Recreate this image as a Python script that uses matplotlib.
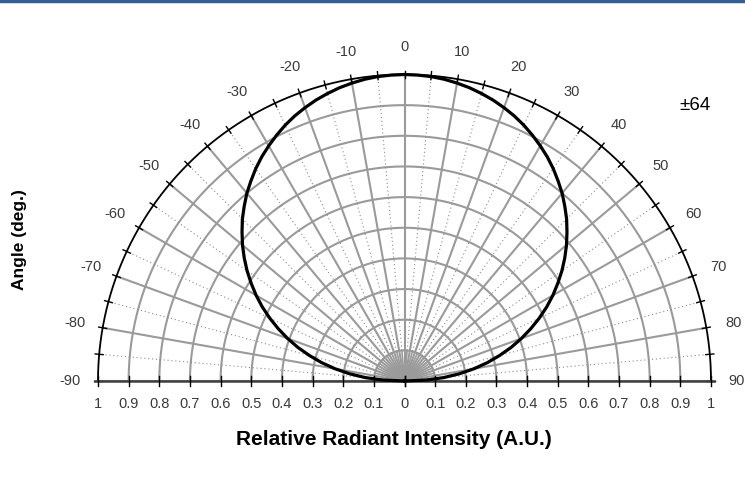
import numpy as np
import matplotlib.pyplot as plt

plt.rcParams['font.family'] = ['Liberation Sans', 'DejaVu Sans']

# relative radiant intensity vs. emission angle (deg)
angles = [-90, -87.5, -85, -82.5, -80, -77.5, -75, -72.5, -70, -67.5, -65, -62.5,
          -60, -57.5, -55, -52.5, -50, -47.5, -45, -42.5, -40, -37.5, -35, -32.5,
          -30, -27.5, -25, -22.5, -20, -17.5, -15, -12.5, -10, -7.5, -5, -2.5,
          0, 2.5, 5, 7.5, 10, 12.5, 15, 17.5, 20, 22.5, 25, 27.5,
          30, 32.5, 35, 37.5, 40, 42.5, 45, 47.5, 50, 52.5, 55, 57.5,
          60, 62.5, 65, 67.5, 70, 72.5, 75, 77.5, 80, 82.5, 85, 87.5, 90]
intensity = [0.0, 0.072, 0.129, 0.181, 0.230, 0.277, 0.321, 0.365, 0.406, 0.446, 0.485, 0.523,
             0.559, 0.593, 0.627, 0.659, 0.690, 0.719, 0.748, 0.774, 0.800, 0.823, 0.846, 0.867,
             0.886, 0.904, 0.921, 0.936, 0.949, 0.961, 0.971, 0.980, 0.987, 0.993, 0.997, 0.999,
             1.0, 0.999, 0.997, 0.993, 0.987, 0.980, 0.971, 0.961, 0.949, 0.936, 0.921, 0.904,
             0.886, 0.867, 0.846, 0.823, 0.800, 0.774, 0.748, 0.719, 0.690, 0.659, 0.627, 0.593,
             0.559, 0.523, 0.485, 0.446, 0.406, 0.365, 0.321, 0.277, 0.230, 0.181, 0.129, 0.072, 0.0]

angle_ticks = [-90, -80, -70, -60, -50, -40, -30, -20, -10, 0, 10, 20, 30, 40, 50, 60, 70, 80, 90]
radius_ticks = [0, 0.1, 0.2, 0.3, 0.4, 0.5, 0.6, 0.7, 0.8, 0.9, 1]
half_angle = "±64"

W, H = 745, 479
cx, cy, R = 404.5, 381.0, 306.5   # pixel position of the pole and unit radius

fig = plt.figure(figsize=(W / 100, H / 100), dpi=100)
ax = fig.add_axes([0, 0, 1, 1])
ax.set_xlim(-cx / R, (W - cx) / R)
ax.set_ylim(-(H - cy) / R, cy / R)
ax.axis('off')


def xy(deg, r):
    t = np.radians(deg)
    return r * np.sin(t), r * np.cos(t)


grid = '#9a9a9a'

# concentric arcs
th = np.linspace(-90, 90, 361)
for r in radius_ticks[1:-1]:
    x, y = xy(th, r)
    ax.plot(x, y, color=grid, lw=1.5, zorder=1)

# radial spokes: solid every 10 deg, dense near the pole, dotted every 5 deg further out
for a in range(-90, 91, 5):
    if a % 10 == 0:
        x, y = xy(a, np.array([0, 1]))
        ax.plot(x, y, color=grid, lw=1.5, zorder=1)
    else:
        x, y = xy(a, np.array([0, 0.1]))
        ax.plot(x, y, color=grid, lw=1.2, zorder=1)
        x, y = xy(a, np.array([0.1, 1]))
        ax.plot(x, y, color='#8c8c8c', lw=0.8, ls=(0, (1, 2.5)), zorder=1)

# outer rim with small ticks every 5 deg
x, y = xy(th, 1.0)
ax.plot(x, y, color='black', lw=1.3, zorder=3)
for a in range(-90, 91, 5):
    x, y = xy(a, np.array([0.987, 1.013]))
    ax.plot(x, y, color='black', lw=1.0, zorder=3)

# baseline with intensity ticks
ax.plot([-1.01, 1.01], [0, 0], color='#404040', lw=1.8, zorder=3)
for r in radius_ticks:
    for s in (-1, 1):
        ax.plot([s * r, s * r], [-0.016, 0.016], color='black', lw=1.0, zorder=3)
        if r > 0 or s > 0:
            ax.text(s * r, -0.075, f"{r:g}", ha='center', va='center',
                    fontsize=10.5, color='#3a3a3a')

# angle labels around the rim (the 90 one is pulled in to stay on the canvas)
for a in angle_ticks:
    x, y = xy(a, 1.09)
    if a == 90:
        x = (737 - cx) / R
    ax.text(x, y, str(a), ha='center', va='center', fontsize=10.5, color='#3a3a3a')

# radiation pattern
x, y = xy(np.array(angles), np.array(intensity))
ax.plot(x, y, color='black', lw=2.3, zorder=4, solid_joinstyle='round')

ax.text((695 - cx) / R, (cy - 106) / R, half_angle, ha='center', va='center',
        fontsize=13.5, color='black')

ax.text(-1.255, 0.46, "Angle (deg.)", rotation=90, ha='center', va='center',
        fontsize=12.5, fontweight='bold', color='black')
ax.text(-0.035, -0.19, "Relative Radiant Intensity (A.U.)", ha='center', va='center',
        fontsize=15, fontweight='bold', color='black')

# thin banner line along the top edge
fig.add_artist(plt.Line2D([0, 1], [0.997, 0.997], color='#365f91', lw=2.5,
                          transform=fig.transFigure))

fig.savefig('out.png', dpi=100)
